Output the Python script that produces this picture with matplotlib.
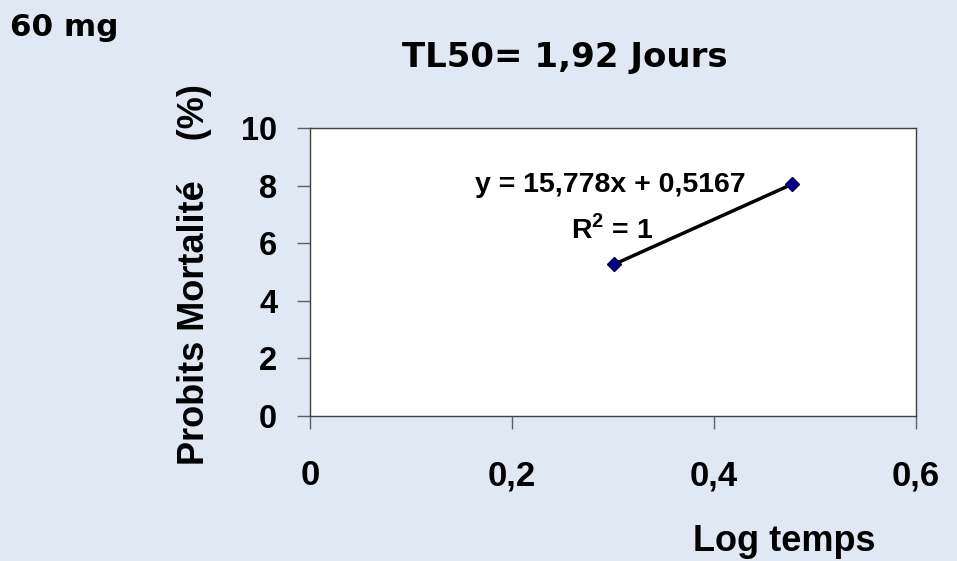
import numpy as np
import matplotlib
matplotlib.use('Agg')
import matplotlib.pyplot as plt

# data: log of time (days 2 and 3) vs probit mortality
log_time = [np.log10(2), np.log10(3)]
probits = [5.266, 8.045]
x_ticks = [0, 0.2, 0.4, 0.6]
x_labels = ['0', '0,2', '0,4', '0,6']
y_ticks = [0, 2, 4, 6, 8, 10]

bg = '#dfe8f3'
plt.rcParams['font.family'] = ['Liberation Sans', 'DejaVu Sans']
plt.rcParams['font.weight'] = 'bold'
plt.rcParams['mathtext.fontset'] = 'custom'
plt.rcParams['mathtext.bf'] = 'Liberation Sans:bold'
plt.rcParams['mathtext.rm'] = 'Liberation Sans:bold'

fig = plt.figure(figsize=(9.57, 5.61), dpi=100, facecolor=bg)
ax = fig.add_axes([310 / 957, 1 - 416 / 561, (916 - 310) / 957, (416 - 128) / 561])
ax.set_facecolor('white')

ax.plot(log_time, probits, color='black', lw=2.5, zorder=2)
ax.plot(log_time, probits, ls='none', marker='D', ms=7, mfc='#000080', mec='#000060', zorder=3)

ax.set_xlim(0, 0.6)
ax.set_ylim(0, 10)
ax.set_xticks(x_ticks)
ax.set_xticklabels(x_labels)
ax.set_yticks(y_ticks)
for s in ax.spines.values():
    s.set_color('#404040')
    s.set_linewidth(1)
ax.tick_params(axis='x', direction='out', length=9, width=1, color='#606060', pad=22, labelsize=25)
ax.tick_params(axis='y', direction='out', length=9.5, width=1, color='#606060', pad=14, labelsize=23.5)

ax.text(0.297, 7.78, 'y = 15,778x + 0,5167', ha='center', va='baseline', fontsize=20.5, fontweight='bold')
ax.text(0.299, 6.18, 'R$^{2}$ = 1', ha='center', va='baseline', fontsize=20.5, fontweight='bold')

fig.text(565 / 957, 1 - 58 / 561, 'TL50= 1,92 Jours', ha='center', va='center', fontsize=24.5,
         fontweight='bold', family='DejaVu Sans')
fig.text(10 / 957, 1 - 27 / 561, '60 mg', ha='left', va='center', fontsize=22.3,
         fontweight='bold', family='DejaVu Sans')
fig.text(784 / 957, 1 - 551 / 561, 'Log temps', ha='center', va='baseline', fontsize=26, fontweight='bold')
fig.text(195 / 957, 1 - 275 / 561, 'Probits Mortalité    (%)', ha='center', va='center',
         rotation=90, fontsize=26, fontweight='bold')

fig.savefig('out.png', dpi=100, facecolor=bg)
